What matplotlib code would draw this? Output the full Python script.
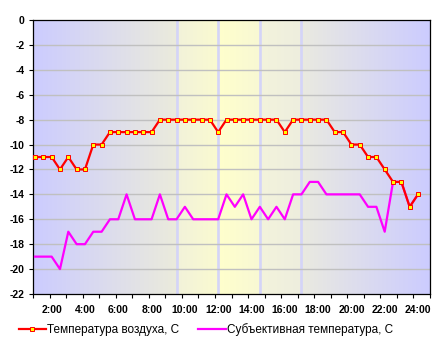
import numpy as np
import matplotlib.pyplot as plt
from matplotlib.colors import LinearSegmentedColormap

plt.rcParams['axes.unicode_minus'] = False

# half-hour readings from 1:00 to 24:00
hours = np.arange(2, 49) / 2
air_temp = [-11, -11, -11, -12, -11, -12, -12, -10, -10, -9, -9, -9, -9, -9, -9,
            -8, -8, -8, -8, -8, -8, -8, -9, -8, -8, -8, -8, -8, -8, -8, -9,
            -8, -8, -8, -8, -8, -9, -9, -10, -10, -11, -11, -12, -13, -13, -15, -14]
feels_temp = [-19, -19, -19, -20, -17, -18, -18, -17, -17, -16, -16, -14, -16, -16, -16,
              -14, -16, -16, -15, -16, -16, -16, -16, -14, -15, -14, -16, -15, -16, -15, -16,
              -14, -14, -13, -13, -14, -14, -14, -14, -14, -15, -15, -17, -13, -13, -15, -14]
day_marks = [9.5, 12, 14.5, 17]
x_labels = ['%d:00' % h for h in range(2, 25, 2)]
y_ticks = list(range(0, -23, -2))

x0, x1 = 0.88, 24.72

fig = plt.figure(figsize=(4.43, 3.48), dpi=100)
ax = fig.add_axes([33 / 443, 54 / 348, 397 / 443, 274 / 348])

# day/night background gradient
stops = [(x0, '#ccccff'), (9.49, '#ebebdc'), (9.51, '#f2f2da'), (11.99, '#fafad0'),
         (12.01, '#ffffcc'), (14.49, '#f8f8d4'), (14.51, '#f3f3dc'), (16.99, '#eeeede'),
         (17.01, '#eaeae0'), (x1, '#ccccff')]
cmap = LinearSegmentedColormap.from_list(
    'daylight', [((t - x0) / (x1 - x0), c) for t, c in stops])
grad = np.linspace(0, 1, 800).reshape(1, -1)
ax.imshow(grad, cmap=cmap, extent=(x0, x1, -22, 0), aspect='auto', zorder=0)

for t in day_marks:
    ax.axvline(t, color='#d4d4f8', lw=1.9, zorder=1)
for v in y_ticks[1:-1]:
    ax.axhline(v, color='#c0c0c0', lw=1.0, zorder=1)

ax.plot(hours, feels_temp, color='#ff00ff', lw=1.6, zorder=3,
        label='Субъективная температура, С')
ax.plot(hours, air_temp, color='#ff0000', lw=1.6, marker='s', markersize=2.6,
        markerfacecolor='#ffff00', markeredgecolor='#ff0000', markeredgewidth=0.7,
        zorder=4, label='Температура воздуха, С')

ax.set_xlim(x0, x1)
ax.set_ylim(-22, 0)
ax.set_yticks(y_ticks)
ax.set_yticklabels([str(v) for v in y_ticks])
ax.set_xticks(range(2, 25, 2))
ax.set_xticklabels(x_labels)
ax.set_xticks(np.linspace(x0, x1, 25), minor=True)
ax.tick_params(axis='x', which='major', length=0, pad=8)
ax.tick_params(axis='x', which='minor', length=3, width=0.8)
ax.tick_params(axis='y', length=3, width=0.8, pad=3)
for lab in ax.get_xticklabels() + ax.get_yticklabels():
    lab.set_fontfamily('Liberation Sans')
    lab.set_fontweight('bold')
    lab.set_fontsize(7.5)
for sp in ax.spines.values():
    sp.set_linewidth(0.9)

h, l = ax.get_legend_handles_labels()
fig.legend(h[::-1], l[::-1], loc='center', bbox_to_anchor=(0.465, 18 / 348), ncol=2,
           frameon=False, prop={'family': 'Liberation Sans', 'size': 8.5},
           handlelength=2.3, handletextpad=0.15, columnspacing=1.6)

fig.savefig('out.png', dpi=100)
